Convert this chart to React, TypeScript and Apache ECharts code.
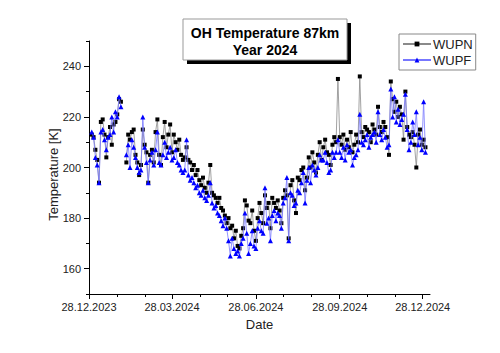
import React, { useEffect, useRef } from "react";
import * as echarts from "echarts";

// Day offsets since 28.12.2023
const days = [
  3, 5, 7, 9, 11, 13, 15, 17, 19, 21, 23, 25, 27, 29, 31, 33, 35, 38,
  41, 43, 45, 47, 49, 51, 53, 55, 57, 59, 61, 63, 65, 67, 69, 71, 73, 75, 77, 79,
  81, 83, 85, 87, 89, 91, 93, 95, 97, 99, 101, 103, 105, 107, 109, 111, 113, 115, 117, 119,
  121, 123, 125, 127, 129, 131, 133, 135, 137, 139, 141, 143, 145, 147, 149, 151, 153, 155, 157, 159,
  161, 163, 165, 167, 169, 171, 173, 175, 177, 179, 181, 183, 185, 187, 189, 191, 193, 195, 197, 199,
  201, 203, 205, 207, 209, 211, 213, 215, 217, 219, 221, 223, 225, 227, 229, 231, 233, 235, 237, 239,
  241, 243, 245, 247, 249, 251, 253, 255, 257, 259, 261, 263, 265, 267, 269, 271, 273, 275, 277, 279,
  281, 283, 285, 287, 289, 291, 293, 295, 297, 299, 301, 303, 305, 307, 309, 311, 313, 315, 317, 319,
  321, 323, 325, 327, 329, 331, 333, 335, 337, 339, 341, 343, 345, 347, 349, 351, 353, 355, 357, 359,
  361, 363, 365, 367, 369,
];

const wupn = [
  213, 212, 207, 203, 194, 218, 219, 213, 204, 212, 216, 209, 217, 218, 221, 227, 226, null,
  202, 213, 211, 214, 215, 205, 202, 197, 201, 215, 209, 206, 194, 205, 207, 202, 214, 219, 205, 201,
  212, 218, 208, 213, 217, 206, 213, 210, 207, 211, 205, 203, 204, 208, 203, 202, 199, 201, 197, 199,
  195, 193, 196, 192, 190, 194, 201, 190, 189, 188, 186, 188, 184, 183, 181, 178, 180, 176, 177, 172,
  175, 169, 168, 173, 176, 187, 185, 179, 178, 183, 175, 171, 180, 186, 182, 178, 189, 184, 186, 176,
  188, 186, 184, 187, 183, 178, 188, 191, 189, 172, 193, 195, 187, 182, 196, 195, 199, 200, 191, 196,
  204, 200, 206, 202, 198, 205, 210, 203, 208, 211, 206, 205, 201, 209, 212, 210, 235, 212, 209, 213,
  207, 211, 208, 214, 206, 209, 213, 210, 236, 214, 212, 216, 215, 214, 210, 217, 215, 213, 224, 216,
  214, 218, 216, 212, 205, 234, 227, 222, 226, 220, 224, 221, 211, 230, 216, 213, 212, 214, 209, 200,
  213, 215, 209, 211, 208,
];

const wupf = [
  214, 212, 204, 201, 194, 214, 215, 211, 207, 212, 213, 220, 214, 222, 220, 228, 224, null,
  205, 209, 200, 211, 208, 204, 200, 198, 199, 220, 208, 202, 194, 203, 206, 201, 207, 214, 202, 201,
  205, 210, 204, 206, 208, 203, 204, 207, 202, 201, 199, 198, 199, 211, 197, 195, 196, 194, 192, 193,
  190, 189, 191, 188, 187, 189, 194, 186, 184, 185, 182, 181, 179, 177, 180, 176, 171, 165, 172, 168,
  166, 167, 165, 170, 172, 182, 174, 166, 170, 175, 169, 168, 176, 179, 175, 174, 192, 178, 180, 171,
  181, 183, 179, 182, 181, 176, 186, 188, 196, 171, 190, 189, 185, 186, 191, 190, 194, 198, 186, 195,
  200, 194, 201, 199, 197, 200, 205, 203, 203, 206, 202, 198, 199, 206, 204, 206, 211, 206, 204, 208,
  203, 209, 206, 207, 201, 204, 205, 207, 221, 210, 209, 211, 213, 208, 212, 213, 214, 210, 222, 213,
  211, 215, 212, 208, 209, 231, 220, 228, 218, 223, 217, 219, 221, 229, 215, 207, 210, 218, 213, 222,
  209, 212, 207, 226, 206,
];

const xTickDays = [0, 91, 183, 275, 366];
const xTickLabels = ["28.12.2023", "28.03.2024", "28.06.2024", "28.09.2024", "28.12.2024"];
const xMinorDays = [31, 62, 122, 152, 213, 244, 305, 336];
const yTickValues = [160, 180, 200, 220, 240];
const yMinorValues = [150, 170, 190, 210, 230, 250];

const FONT = "'Liberation Sans', Arial, sans-serif";

export default function App() {
  const ref = useRef<HTMLDivElement>(null);

  useEffect(() => {
    if (!ref.current) return;
    const chart = echarts.init(ref.current, null, { renderer: "svg" });
    const nData = days.map((d, i) => [d, wupn[i]]);
    const fData = days.map((d, i) => [d, wupf[i]]);

    const xBase = {
      type: "value",
      min: 0,
      max: 374,
      position: "bottom",
      splitLine: { show: false },
    };
    const yBase = {
      type: "value",
      min: 150,
      max: 250,
      position: "left",
      splitLine: { show: false },
    };

    chart.setOption({
      animation: false,
      backgroundColor: "#ffffff",
      textStyle: { fontFamily: FONT },
      grid: { left: 89, right: 70, top: 41, bottom: 59, containLabel: false },
      xAxis: [
        {
          ...xBase,
          name: "Date",
          nameLocation: "middle",
          nameGap: 24,
          nameMoveOverlap: false,
          nameTextStyle: { fontFamily: FONT, fontSize: 13, color: "#222" },
          axisLine: { show: true, lineStyle: { color: "#000", width: 1 } },
          axisTick: { show: true, length: 5, customValues: xTickDays, lineStyle: { color: "#000" } },
          axisLabel: {
            show: true,
            customValues: xTickDays,
            margin: 7,
            fontFamily: FONT,
            fontSize: 11,
            color: "#222",
            formatter: (v: number) => {
              const idx = xTickDays.indexOf(Math.round(v));
              return idx >= 0 ? xTickLabels[idx] : "";
            },
          },
        },
        {
          ...xBase,
          axisLine: { show: false },
          axisTick: { show: true, length: 3, customValues: xMinorDays, lineStyle: { color: "#000" } },
          axisLabel: { show: false },
        },
      ],
      yAxis: [
        {
          ...yBase,
          name: "Temperature [K]",
          nameLocation: "middle",
          nameGap: 29,
          nameMoveOverlap: false,
          nameTextStyle: { fontFamily: FONT, fontSize: 13, color: "#222", padding: [0, 14, 0, 0] },
          axisLine: { show: true, lineStyle: { color: "#000", width: 1 } },
          axisTick: { show: true, length: 5, customValues: yTickValues, lineStyle: { color: "#000" } },
          axisLabel: {
            show: true,
            customValues: yTickValues,
            margin: 8,
            fontFamily: FONT,
            fontSize: 11,
            color: "#222",
          },
        },
        {
          ...yBase,
          axisLine: { show: false },
          axisTick: { show: true, length: 3, customValues: yMinorValues, lineStyle: { color: "#000" } },
          axisLabel: { show: false },
        },
      ],
      legend: {
        orient: "vertical",
        left: 399,
        top: 34,
        padding: [3, 3, 3, 3],
        itemGap: 2,
        itemWidth: 28,
        itemHeight: 6,
        borderColor: "#888",
        borderWidth: 1,
        backgroundColor: "#fff",
        textStyle: { fontFamily: FONT, fontSize: 13, color: "#222", padding: [0, 0, 0, -3], lineHeight: 14 },
        data: ["WUPN", "WUPF"],
      },
      series: [
        {
          name: "WUPN",
          type: "line",
          xAxisIndex: 0,
          yAxisIndex: 0,
          data: nData,
          symbol: "rect",
          symbolSize: 4,
          showAllSymbol: true,
          connectNulls: false,
          itemStyle: { color: "#000" },
          lineStyle: { color: "#8a8a8a", width: 0.8 },
          z: 2,
        },
        {
          name: "WUPF",
          type: "line",
          xAxisIndex: 0,
          yAxisIndex: 0,
          data: fData,
          symbol: "triangle",
          symbolSize: 5,
          showAllSymbol: true,
          connectNulls: false,
          itemStyle: { color: "#0000ff" },
          lineStyle: { color: "#7777ff", width: 0.8 },
          z: 3,
        },
      ],
      graphic: [
        { type: "rect", shape: { x: 187, y: 23, width: 164, height: 41 }, style: { fill: "#000" }, z: 10 },
        {
          type: "rect",
          shape: { x: 183, y: 19, width: 164, height: 41 },
          style: { fill: "#fff", stroke: "#999", lineWidth: 1 },
          z: 11,
        },
        {
          type: "text",
          x: 265,
          y: 32.5,
          style: {
            text: "OH Temperature 87km",
            font: `bold 14px ${FONT}`,
            fill: "#000",
            textAlign: "center",
            textVerticalAlign: "middle",
          },
          z: 12,
        },
        {
          type: "text",
          x: 265,
          y: 50,
          style: {
            text: "Year 2024",
            font: `bold 14px ${FONT}`,
            fill: "#000",
            textAlign: "center",
            textVerticalAlign: "middle",
          },
          z: 12,
        },
      ],
    });
    return () => chart.dispose();
  }, []);

  return (
    <div
      ref={ref}
      style={{ position: "absolute", left: 0, top: 0, width: 500, height: 353, background: "#fff" }}
    />
  );
}
